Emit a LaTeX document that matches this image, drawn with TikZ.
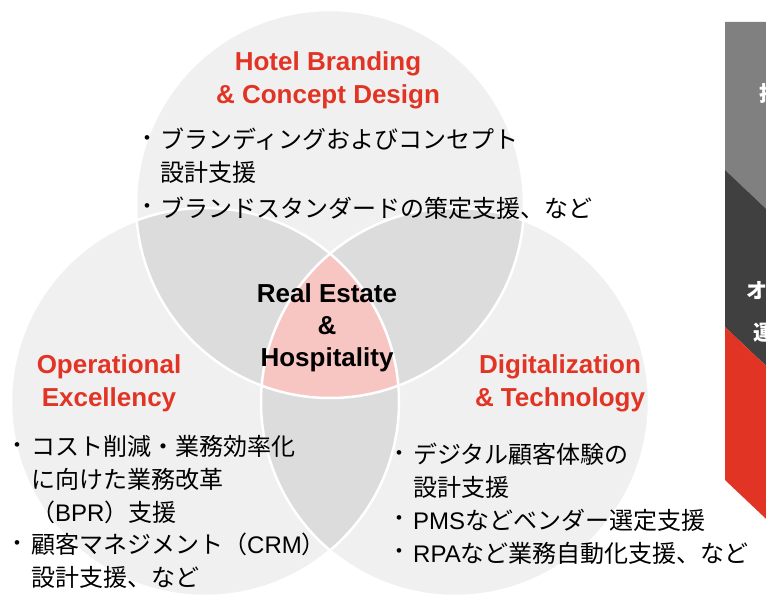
\documentclass[tikz,border=0pt]{standalone}
\usepackage{fontspec}
\setmainfont{Liberation Sans}
\newfontfamily\jp{Noto Sans CJK JP}
\newfontfamily\lat{Liberation Sans}
\usepackage{xcolor}
\definecolor{vnred}{RGB}{226,52,36}
\definecolor{vngray}{RGB}{240,240,240}
\definecolor{vngray2}{RGB}{220,220,220}
\definecolor{vnpink}{RGB}{247,198,194}
\definecolor{vnmid}{RGB}{128,128,128}
\definecolor{vndark}{RGB}{64,64,64}
\newcommand{\vennr}{194pt}

\begin{document}
\begin{tikzpicture}[x=1pt, y=-1pt,
  head/.style={font=\fontsize{26}{33}\selectfont\bfseries, text=vnred, align=center, inner sep=0pt},
  core/.style={font=\fontsize{26}{32}\selectfont\bfseries, align=center, inner sep=0pt},
  item/.style={font=\fontsize{24}{33}\jp, align=left, anchor=west, inner sep=0pt},
  dot/.style={font=\fontsize{17}{17}\selectfont, inner sep=0pt},
  tag/.style={font=\fontsize{21}{21}\jp\bfseries, text=white, inner sep=0pt}]

\useasboundingbox (0,0) rectangle (766,599);

% === Venn circles ===
\coordinate (ctop) at (330,204);
\coordinate (cleft) at (205,402);
\coordinate (cright) at (455,402);

\fill[vngray] (ctop) circle (\vennr) (cleft) circle (\vennr) (cright) circle (\vennr);

% pairwise overlaps
\begin{scope}
  \clip (ctop) circle (\vennr);
  \fill[vngray2] (cleft) circle (\vennr) (cright) circle (\vennr);
\end{scope}
\begin{scope}
  \clip (cleft) circle (\vennr);
  \fill[vngray2] (cright) circle (\vennr);
\end{scope}

% centre of all three
\begin{scope}
  \clip (ctop) circle (\vennr);
  \clip (cleft) circle (\vennr);
  \fill[vnpink] (cright) circle (\vennr);
\end{scope}

\draw[white, line width=2.5pt] (ctop) circle (\vennr) (cleft) circle (\vennr) (cright) circle (\vennr);

% === Chevron column (cut at the page edge) ===
\begin{scope}
  \clip (0,0) rectangle (766,599);
  \fill[vnmid] (725,22) -- (800,22) -- (800,241) -- (725,170) -- cycle;
  \fill[vndark] (725,170) -- (800,241) -- (800,398) -- (725,327) -- cycle;
  \fill[vnred] (725,327) -- (800,398) -- (800,551) -- (725,480) -- cycle;
  \node[tag] (tagplan) at (770,94) {投};
  \node[tag] (tagops) at (757,291) {オ};
  \node[tag] (tagrun) at (764,333) {運};
\end{scope}

% === Top: branding ===
\node[head] (brandhead) at (328,80) {Hotel Branding\\\& Concept Design};
\node[dot] (brandbul1) at (147,140) {•};
\node[item] (brand1) at (160,156) {ブランディングおよびコンセプト\\設計支援};
\node[dot] (brandbul2) at (147,208) {•};
\node[item] (brand2) at (160,208) {ブランドスタンダードの策定支援、など};

% === Centre ===
\node[core] (core) at (327,328) {Real Estate\\\&\\Hospitality};

% === Left: operations ===
\node[head] (opshead) at (109,383) {Operational\\Excellency};
\node[dot] (opsbul1) at (17,447) {•};
\node[item] (ops1) at (31,480) {コスト削減・業務効率化\\に向けた業務改革\\（{\lat BPR}）支援};
\node[dot] (opsbul2) at (17,545) {•};
\node[item] (ops2) at (31,561) {顧客マネジメント（{\lat CRM}）\\設計支援、など};

% === Right: digital ===
\node[head] (digihead) at (560,383) {Digitalization\\\& Technology};
\node[dot] (digibul1) at (399,455) {•};
\node[item] (digi1) at (413,471) {デジタル顧客体験の\\設計支援};
\node[dot] (digibul2) at (399,520) {•};
\node[item] (digi2) at (413,520) {{\lat PMS}などベンダー選定支援};
\node[dot] (digibul3) at (399,553) {•};
\node[item] (digi3) at (413,553) {{\lat RPA}など業務自動化支援、など};

\end{tikzpicture}
\end{document}
